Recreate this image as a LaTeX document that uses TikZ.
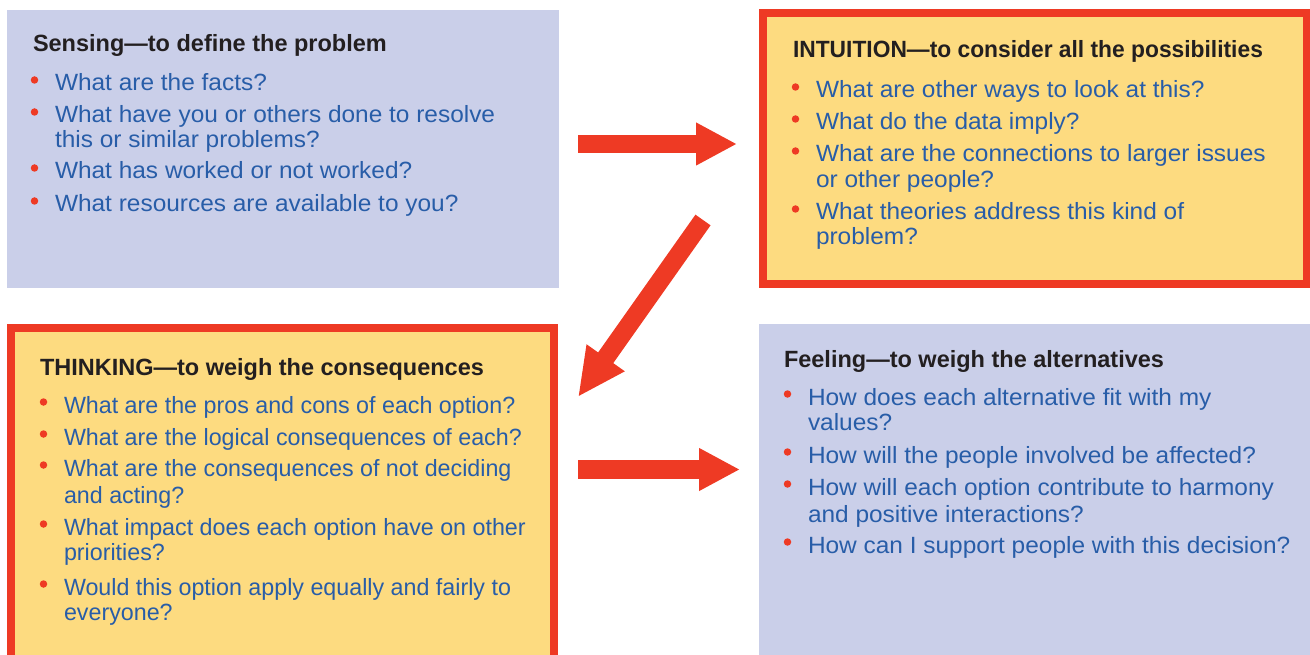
\documentclass[tikz,border=0pt]{standalone}
\usepackage{fontspec}
\setmainfont{Liberation Sans}
\newfontfamily\bodyf[FakeStretch=1.04]{Liberation Sans}
\newfontfamily\bodyn[FakeStretch=0.99]{Liberation Sans}
\newfontfamily\ttlnarrow[FakeStretch=0.97]{Liberation Sans}
\usetikzlibrary{arrows.meta}
\definecolor{lav}{RGB}{202,207,233}
\definecolor{yel}{RGB}{253,219,128}
\definecolor{redA}{RGB}{238,58,36}
\definecolor{blueT}{RGB}{40,93,168}
\definecolor{ink}{RGB}{35,31,32}
\newcommand\qline[4]{%
  \node[qdot] (#1d) at ({#2-20.5},{#3-11}) {};
  \node[qtext] (#1) at (#2,#3) {#4};}
\newcommand\qcont[4]{%
  \node[qtext] (#1) at (#2,#3) {#4};}
\begin{document}
\begin{tikzpicture}[x=1pt,y=-1pt,
  plainbox/.style={fill=lav, draw=none, inner sep=0pt, outer sep=0pt, anchor=north west},
  hotbox/.style={fill=yel, draw=redA, line width=8pt, inner sep=0pt, outer sep=0pt, anchor=north west},
  ttl/.style={anchor=base west, inner sep=0pt, outer sep=0pt, text=ink, font=\fontsize{23.5}{26}\selectfont\bfseries},
  qtext/.style={anchor=base west, inner sep=0pt, outer sep=0pt, text=blueT, font=\bodyf\fontsize{23.5}{25.5}\selectfont},
  qdot/.style={circle, fill=redA, draw=none, inner sep=0pt, minimum size=7.5pt},
  bigarrow/.style={draw=redA, line width=18.5pt, -{Triangle[length=41pt,width=40pt]}}]
\useasboundingbox (0,0) rectangle (1310,655);
\clip (0,0) rectangle (1310,655);
% boxes
\node[plainbox, minimum width=552pt, minimum height=278pt] (sense) at (7,10) {};
\node[hotbox, minimum width=544pt, minimum height=271pt] (intu) at (763,13) {};
\node[hotbox, minimum width=543pt, minimum height=400pt] (think) at (11,328) {};
\node[plainbox, minimum width=560pt, minimum height=340pt] (feel) at (759,324) {};
% arrows
\coordinate (a1s) at (578,144);
\coordinate (a1e) at (737,144);
\coordinate (a2s) at (703,220);
\coordinate (a2e) at (578,397);
\coordinate (a3s) at (578,469.5);
\coordinate (a3e) at (740,469.5);
\draw[bigarrow] (a1s) -- (a1e);
\draw[draw=redA, line width=18.5pt, -{Triangle[length=48pt,width=43pt]}] (a2s) -- (a2e);
\draw[bigarrow] (a3s) -- (a3e);
% Sensing
\node[ttl] (st) at (33,52) {Sensing—to define the problem};
\qline{s1}{55}{91}{What are the facts?}
\qline{s2}{55}{123}{What have you or others done to resolve}
\qcont{s2b}{55}{148}{this or similar problems?}
\qline{s3}{55}{179}{What has worked or not worked?}
\qline{s4}{55}{212}{What resources are available to you?}
% Intuition
\node[ttl, font=\ttlnarrow\fontsize{23.5}{26}\selectfont\bfseries] (it) at (793,58) {INTUITION—to consider all the possibilities};
\qline{i1}{816}{98}{What are other ways to look at this?}
\qline{i2}{816}{130}{What do the data imply?}
\qline{i3}{816}{162}{What are the connections to larger issues}
\qcont{i3b}{816}{188}{or other people?}
\qline{i4}{816}{220}{What theories address this kind of}
\qcont{i4b}{816}{245}{problem?}
% Thinking
\node[ttl] (tt) at (40,375) {THINKING—to weigh the consequences};
\begin{scope}[qtext/.append style={font=\bodyn\fontsize{23.5}{25.5}\selectfont}]
\qline{t1}{64}{413}{What are the pros and cons of each option?}
\qline{t2}{64}{445}{What are the logical consequences of each?}
\qline{t3}{64}{476}{What are the consequences of not deciding}
\qcont{t3b}{64}{503}{and acting?}
\qline{t4}{64}{535}{What impact does each option have on other}
\qcont{t4b}{64}{560}{priorities?}
\qline{t5}{64}{595}{Would this option apply equally and fairly to}
\qcont{t5b}{64}{620}{everyone?}
\end{scope}
% Feeling
\node[ttl] (ft) at (784,367) {Feeling—to weigh the alternatives};
\qline{f1}{808}{405}{How does each alternative fit with my}
\qcont{f1b}{808}{430}{values?}
\qline{f2}{808}{463}{How will the people involved be affected?}
\qline{f3}{808}{495}{How will each option contribute to harmony}
\qcont{f3b}{808}{522}{and positive interactions?}
\qline{f4}{808}{553}{How can I support people with this decision?}
\end{tikzpicture}
\end{document}
